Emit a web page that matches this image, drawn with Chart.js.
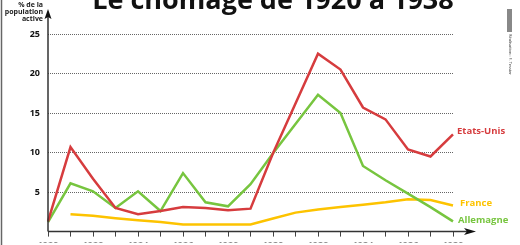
<!DOCTYPE html>
<html>
<head>
<meta charset="utf-8">
<script src="https://cdn.jsdelivr.net/npm/chart.js@4"></script>
<style>
  html, body { margin: 0; padding: 0; background: #fff; }
  canvas { display: block; }
</style>
</head>
<body>
<canvas id="myChart" width="520" height="245"></canvas>
<script>
const years = ['1920', '1921', '1922', '1923', '1924', '1925', '1926', '1927', '1928', '1929',
  '1930', '1931', '1932', '1933', '1934', '1935', '1936', '1937', '1938'];
const etatsUnis = [1.3, 10.7, 6.7, 3.0, 2.2, 2.6, 3.1, 3.0, 2.7, 2.9, 9.9, 16.2, 22.5, 20.5, 15.7, 14.2, 10.4, 9.5, 12.3];
const allemagne = [1.2, 6.1, 5.1, 3.0, 5.1, 2.6, 7.4, 3.7, 3.2, 6.0, 9.9, 13.6, 17.3, 15.0, 8.3, 6.5, 4.8, 3.1, 1.3];
const france = [null, 2.2, 2.0, 1.7, 1.45, 1.2, 0.9, 0.9, 0.9, 0.9, 1.65, 2.4, 2.8, 3.1, 3.4, 3.7, 4.1, 4.0, 3.3];
const yTicks = [5, 10, 15, 20, 25];

const RED = '#d63c3e';
const GREEN = '#77c53f';
const YELLOW = '#fdc300';
const FONT = '"Open Sans", "DejaVu Sans", sans-serif';

const ctx = document.getElementById('myChart');

// title, axis arrows, series names, credits
const decorations = {
    id: 'decorations',
    afterDraw(chart) {
        const c = chart.ctx;
        const area = chart.chartArea;
        const yScale = chart.scales.y;
        c.save();

        // left frame line
        c.strokeStyle = '#666';
        c.lineWidth = 1.5;
        c.beginPath();
        c.moveTo(1.5, 0);
        c.lineTo(1.5, 245);
        c.stroke();

        // title
        c.fillStyle = '#111';
        c.font = 'bold 27px ' + FONT;
        c.textAlign = 'center';
        c.textBaseline = 'alphabetic';
        c.fillText('Le chômage de 1920 à 1938', 273, 9);

        // y axis label
        c.font = 'bold 7px ' + FONT;
        c.textAlign = 'right';
        c.fillStyle = '#222';
        c.fillText('% de la', 43, 7);
        c.fillText('population', 43, 14);
        c.fillText('active', 43, 21);

        // axes
        c.strokeStyle = '#333';
        c.fillStyle = '#111';
        c.lineWidth = 1.5;
        c.beginPath();
        c.moveTo(area.left, area.bottom);
        c.lineTo(area.left, 14);
        c.moveTo(area.left, area.bottom);
        c.lineTo(468, area.bottom);
        c.stroke();
        c.beginPath();
        c.moveTo(area.left, 9);
        c.lineTo(area.left - 3.5, 19);
        c.lineTo(area.left, 17);
        c.lineTo(area.left + 3.5, 19);
        c.closePath();
        c.fill();
        c.beginPath();
        c.moveTo(476, area.bottom);
        c.lineTo(464, area.bottom - 3.5);
        c.lineTo(467, area.bottom);
        c.lineTo(464, area.bottom + 3.5);
        c.closePath();
        c.fill();

        // series names at the end of each line
        c.font = 'bold 9.5px ' + FONT;
        c.textAlign = 'left';
        c.textBaseline = 'middle';
        const last = years.length - 1;
        const xEnd = chart.scales.x.getPixelForValue(last);
        c.fillStyle = RED;
        c.fillText('Etats-Unis', xEnd + 4, yScale.getPixelForValue(etatsUnis[last]) - 3);
        c.fillStyle = YELLOW;
        c.fillText('France', xEnd + 7, yScale.getPixelForValue(france[last]) - 2);
        c.fillStyle = GREEN;
        c.fillText('Allemagne', xEnd + 5, yScale.getPixelForValue(allemagne[last]) - 1);

        // credits strip on the right
        c.fillStyle = '#888';
        c.fillRect(507, 9, 5, 23);
        c.save();
        c.translate(510, 34);
        c.rotate(Math.PI / 2);
        c.font = '4px ' + FONT;
        c.fillStyle = '#333';
        c.textAlign = 'left';
        c.fillText('Réalisation : F. Tessier', 0, 0);
        c.restore();

        c.restore();
    }
};

new Chart(ctx, {
    type: 'line',
    data: {
        labels: years,
        datasets: [{
            label: 'Etats-Unis',
            data: etatsUnis,
            borderColor: RED,
            borderWidth: 2.5,
            pointRadius: 0,
            tension: 0
        }, {
            label: 'Allemagne',
            data: allemagne,
            borderColor: GREEN,
            borderWidth: 2.5,
            pointRadius: 0,
            tension: 0
        }, {
            label: 'France',
            data: france,
            borderColor: YELLOW,
            borderWidth: 2.5,
            pointRadius: 0,
            tension: 0
        }]
    },
    options: {
        responsive: false,
        animation: false,
        devicePixelRatio: 1,
        layout: {
            padding: { left: 0, right: 67, top: 34, bottom: 0 }
        },
        scales: {
            x: {
                offset: false,
                afterFit: scale => { scale.height = 11; },
                grid: {
                    drawOnChartArea: false,
                    drawTicks: true,
                    tickLength: 5,
                    color: '#444',
                    lineWidth: 1
                },
                border: { display: false },
                ticks: {
                    autoSkip: false,
                    maxRotation: 0,
                    padding: 3,
                    color: '#111',
                    font: { family: FONT, size: 9, weight: 'bold' },
                    callback: (value, index) => index % 2 === 0 ? years[index] : ''
                }
            },
            y: {
                min: 0,
                max: 25,
                afterFit: scale => { scale.width = 48; },
                afterBuildTicks: scale => {
                    scale.ticks = [0].concat(yTicks).map(v => ({ value: v }));
                },
                grid: {
                    drawTicks: false,
                    lineWidth: 1,
                    color: c => c.tick && c.tick.value === 0 ? 'rgba(0,0,0,0)' : '#666'
                },
                border: { display: false, dash: [1, 1] },
                ticks: {
                    padding: 8,
                    color: '#111',
                    font: { family: FONT, size: 9, weight: 'bold' },
                    callback: value => value === 0 ? '' : value
                }
            }
        },
        plugins: {
            legend: { display: false },
            tooltip: { enabled: false }
        }
    },
    plugins: [decorations]
});
</script>
</body>
</html>
